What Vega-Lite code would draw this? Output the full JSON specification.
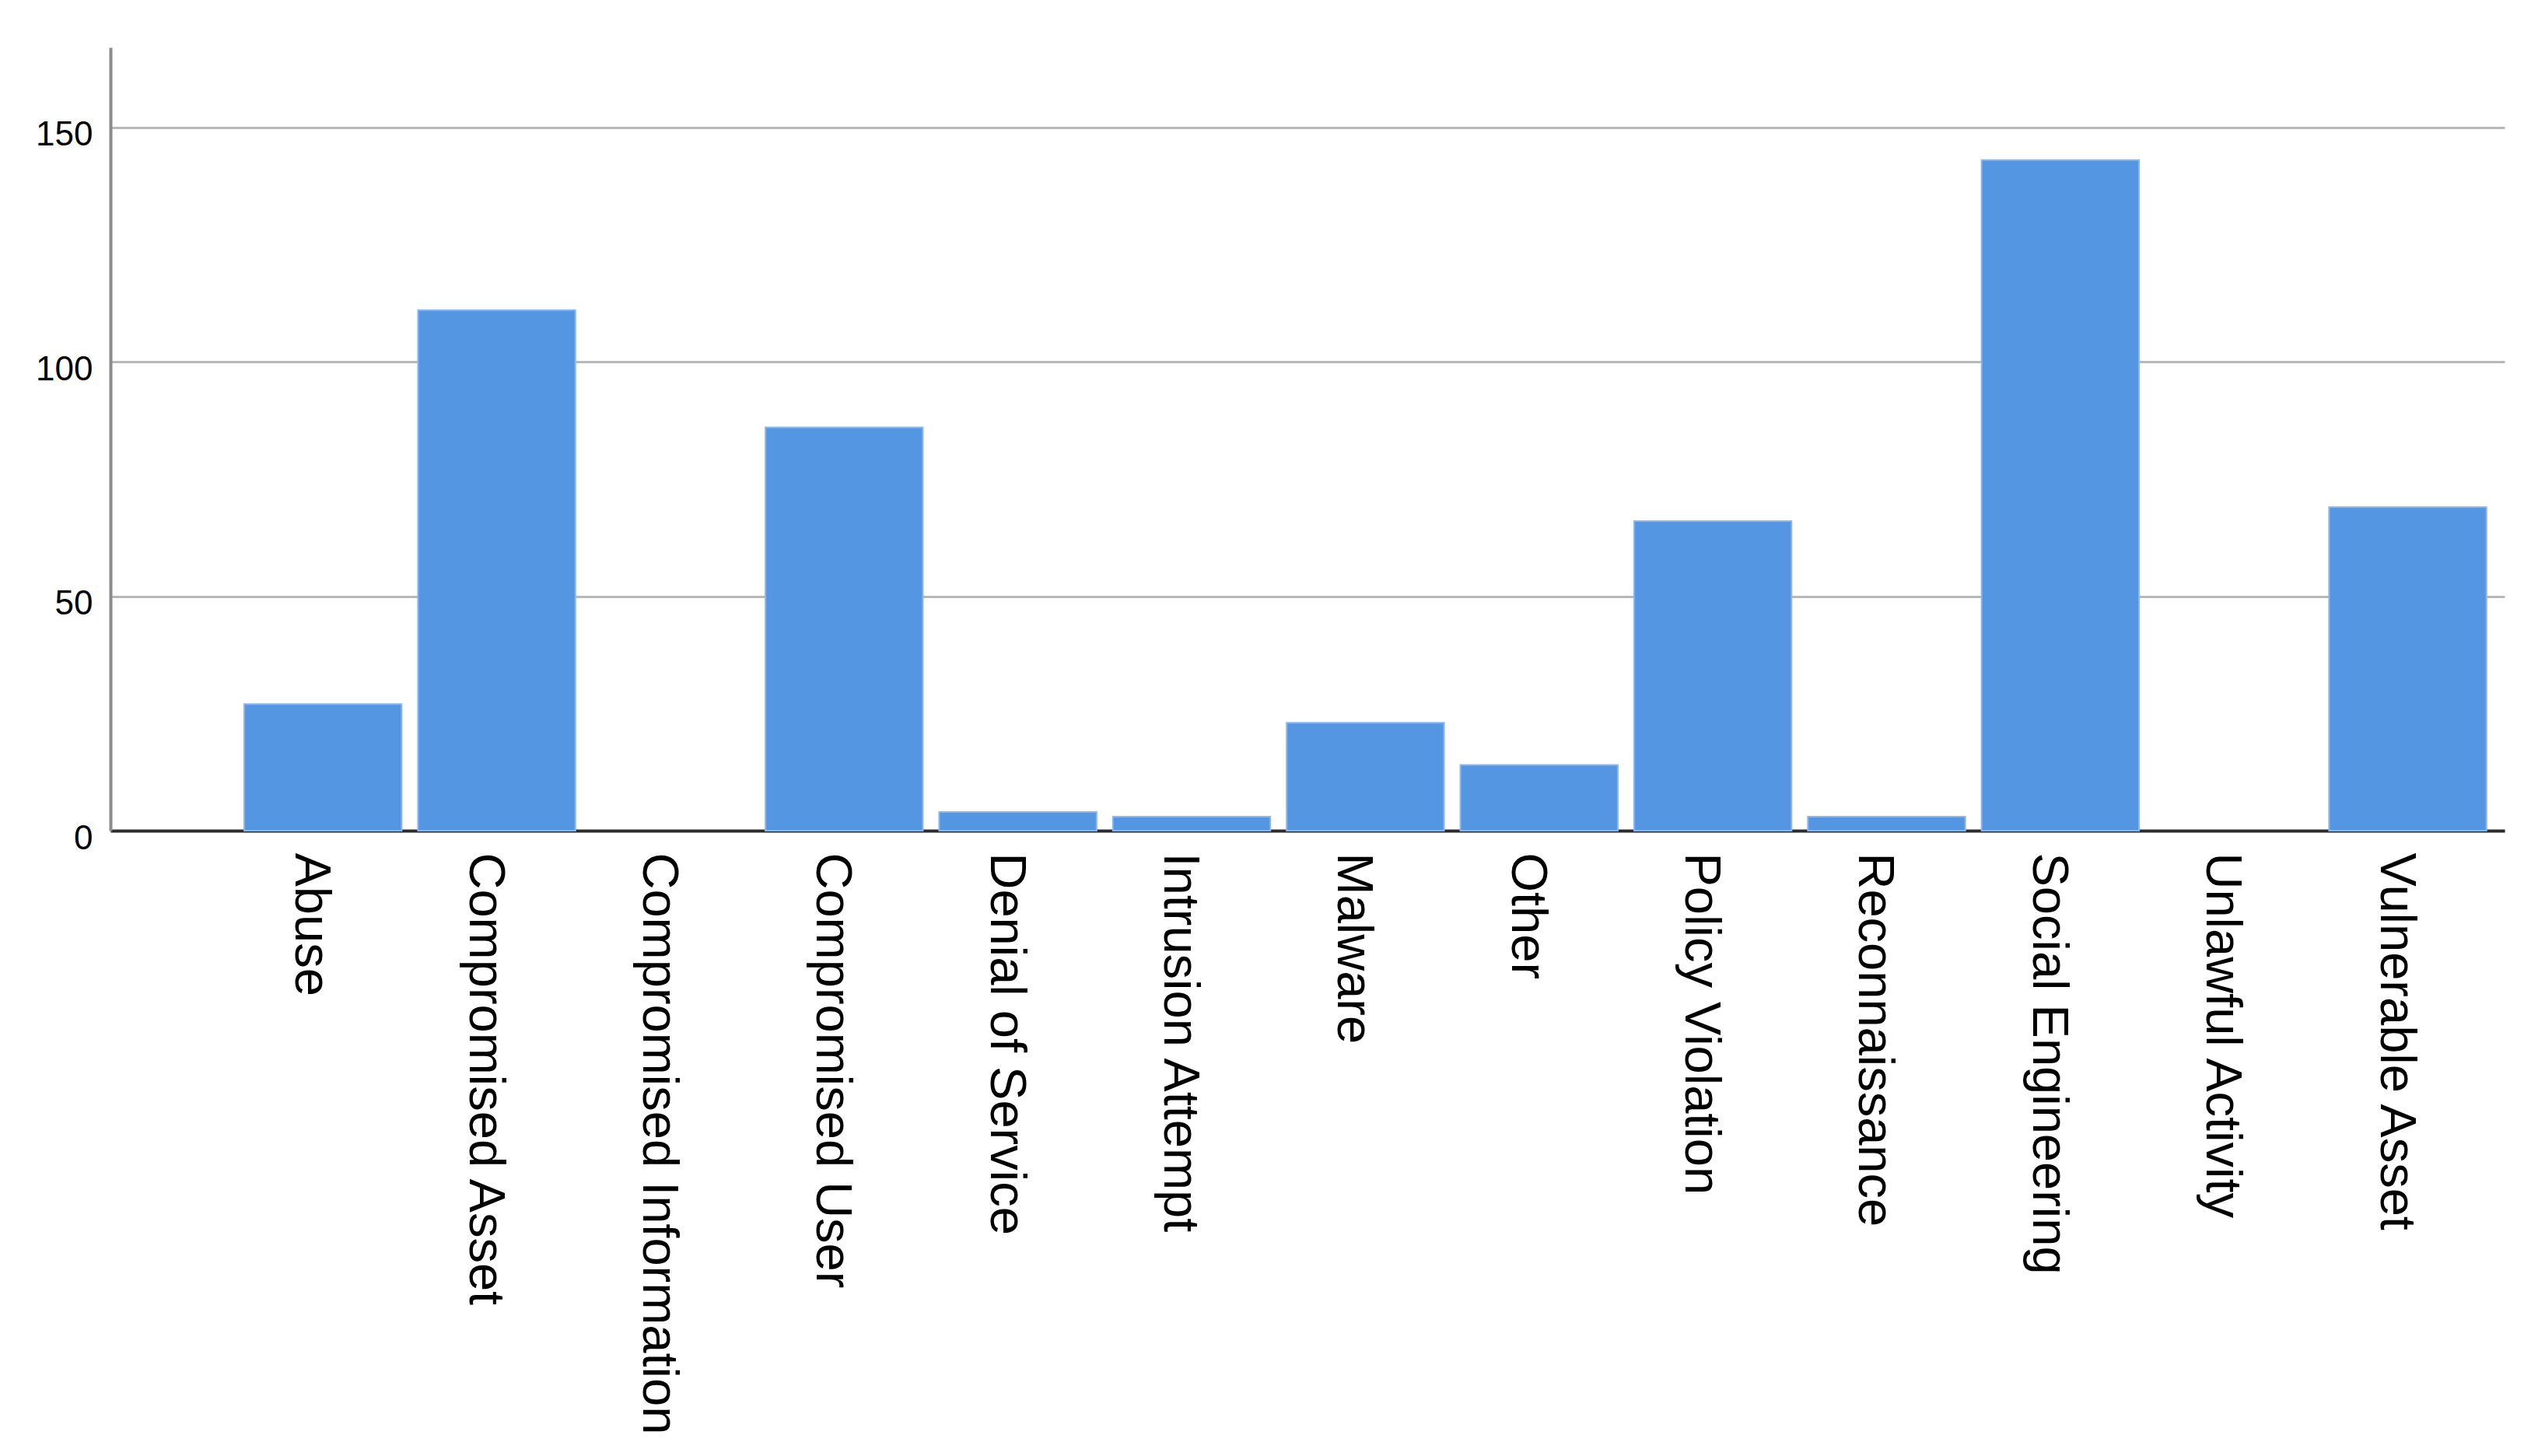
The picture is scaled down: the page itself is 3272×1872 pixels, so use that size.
{
  "$schema": "https://vega.github.io/schema/vega-lite/v6.json",
  "width": 3078,
  "height": 1007,
  "autosize": "none",
  "padding": {"left": 142, "top": 61, "right": 52, "bottom": 804},
  "background": "white",
  "config": {
    "view": {"stroke": null},
    "font": "Liberation Sans"
  },
  "data": {
    "values": [
      {"category": "Abuse", "count": 27},
      {"category": "Compromised Asset", "count": 111},
      {"category": "Compromised Information", "count": 0},
      {"category": "Compromised User", "count": 86},
      {"category": "Denial of Service", "count": 4},
      {"category": "Intrusion Attempt", "count": 3},
      {"category": "Malware", "count": 23},
      {"category": "Other", "count": 14},
      {"category": "Policy Violation", "count": 66},
      {"category": "Reconnaissance", "count": 3},
      {"category": "Social Engineering", "count": 143},
      {"category": "Unlawful Activity", "count": 0},
      {"category": "Vulnerable Asset", "count": 69}
    ]
  },
  "mark": {"type": "bar", "color": "#5596E3", "stroke": "#8DB6EC", "strokeWidth": 2},
  "encoding": {
    "x": {
      "field": "category",
      "type": "nominal",
      "sort": null,
      "scale": {"paddingInner": 0.094, "paddingOuter": 0.437, "align": 0.881},
      "axis": {
        "title": null,
        "ticks": false,
        "tickSize": 0,
        "labelPadding": 28,
        "labelAngle": 90,
        "labelAlign": "left",
        "labelBaseline": "middle",
        "labelOffset": -15,
        "labelFontSize": 65,
        "labelFont": "Liberation Sans",
        "labelColor": "#000000",
        "labelLimit": 2000,
        "labelOverlap": false,
        "labelFlush": false,
        "domainColor": "#2b2b2b",
        "domainWidth": 4,
        "grid": false
      }
    },
    "y": {
      "field": "count",
      "type": "quantitative",
      "scale": {"domain": [0, 167], "nice": false, "zero": true},
      "axis": {
        "title": null,
        "values": [0, 50, 100, 150],
        "ticks": false,
        "tickSize": 0,
        "labelPadding": 23,
        "labelOffset": 10,
        "labelFontSize": 44,
        "labelFont": "Liberation Sans",
        "labelColor": "#000000",
        "domainColor": "#8a8a8a",
        "domainWidth": 4,
        "grid": true,
        "gridColor": "#b8b8b8",
        "gridWidth": 3
      }
    },
    "strokeOpacity": {
      "condition": {"test": "datum.count == 0", "value": 0},
      "value": 1
    }
  }
}
